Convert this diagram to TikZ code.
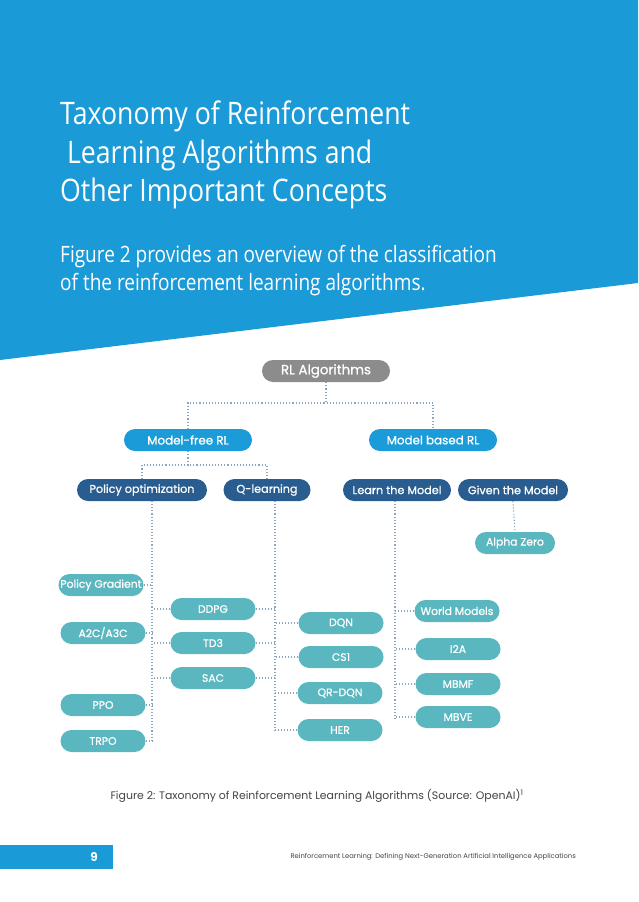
\documentclass[tikz,border=0pt]{standalone}
\usepackage{fontspec}
\setmainfont{Poppins}
\newfontfamily\nodefont{Poppins}[FakeBold=0.8]
\newfontfamily\titlefont{Open Sans}[FakeStretch=0.86]
\newfontfamily\subfont{Open Sans}[FakeStretch=0.845]
\definecolor{bgblue}{HTML}{1A9AD7}
\definecolor{lblue}{HTML}{1B9CD8}
\definecolor{dblue}{HTML}{2A5D8F}
\definecolor{teal}{HTML}{5AB7BF}
\definecolor{rlgray}{HTML}{8C8C8C}
\definecolor{linkc}{HTML}{8AA5BD}
\definecolor{captc}{HTML}{444444}
\begin{document}
\begin{tikzpicture}[x=1pt,y=-1pt,
  box/.style={rounded corners=11pt, minimum height=22pt, inner sep=0pt, text=white,
    font=\nodefont\fontsize{10.8}{12}\selectfont, align=center},
  graybox/.style={box, fill=rlgray, minimum width=128pt, font=\nodefont\fontsize{13.4}{15}\selectfont},
  lbox/.style={box, fill=lblue, minimum width=128pt, font=\nodefont\fontsize{11.9}{13}\selectfont},
  dbox/.style={box, fill=dblue, font=\nodefont\fontsize{11.2}{13}\selectfont},
  tbox/.style={box, fill=teal, minimum width=85pt},
  link/.style={draw=linkc, line width=1.1pt, dotted},
  title/.style={anchor=base west, inner sep=0pt, text=white, font=\titlefont\fontsize{31}{37}\selectfont},
  sub/.style={anchor=base west, inner sep=0pt, text=white, font=\subfont\fontsize{22.5}{25}\selectfont}]
\useasboundingbox (0,0) rectangle (638,902);
\fill[white] (0,0) rectangle (638,902);
\fill[bgblue] (0,0) -- (638,0) -- (638,283) -- (0,360) -- cycle;
% titles
\node[title] (t1) at (60,124) {Taxonomy of Reinforcement};
\node[title] (t2) at (60,163) {\ Learning Algorithms and};
\node[title] (t3) at (60,201) {Other Important Concepts};
\node[sub] (s1) at (60,262) {Figure 2 provides an overview of the classification};
\node[sub] (s2) at (60,290) {of the reinforcement learning algorithms.};
% nodes
\node[graybox] (rl) at (326,371) {RL Algorithms};
\node[lbox] (mf) at (188,440) {Model-free RL};
\node[lbox] (mb) at (433,440) {Model based RL};
\node[dbox, minimum width=130pt] (po) at (142,490) {Policy optimization};
\node[dbox, minimum width=87pt] (ql) at (267,490) {Q-learning};
\node[dbox, minimum width=108pt] (lm) at (397,490) {Learn the Model};
\node[dbox, minimum width=110pt] (gm) at (513,490) {Given the Model};
\node[tbox, minimum width=80pt] (az) at (515,543) {Alpha Zero};
\node[tbox] (pg) at (101,585) {Policy Gradient};
\node[tbox] (a2c) at (103,633) {A2C/A3C};
\node[tbox] (ppo) at (103,705) {PPO};
\node[tbox] (trpo) at (103,741) {TRPO};
\node[tbox] (ddpg) at (213,609) {DDPG};
\node[tbox] (td3) at (213,643) {TD3};
\node[tbox] (sac) at (213,678) {SAC};
\node[tbox] (dqn) at (341,623) {DQN};
\node[tbox] (cs1) at (341,657) {CS1};
\node[tbox] (qrdqn) at (340,693) {QR-DQN};
\node[tbox] (her) at (340,730) {HER};
\node[tbox] (wm) at (457,611) {World Models};
\node[tbox] (i2a) at (458,649) {I2A};
\node[tbox] (mbmf) at (458,684) {MBMF};
\node[tbox] (mbve) at (458,717) {MBVE};
% junctions
\coordinate (j1) at (326,403);
\coordinate (j2) at (188,465);
\coordinate (pot) at (152,501);
\coordinate (pob) at (152,742);
\coordinate (qlt) at (275,501);
\coordinate (qlb) at (275,731);
\coordinate (lmt) at (395,501);
\coordinate (lmb) at (395,719);
% links
\draw[link] (rl.south) -- (j1);
\draw[link] (mf.north) |- (j1) -| (mb.north);
\draw[link] (mf.south) -- (j2);
\draw[link] (po.north) |- (j2) -| (ql.north);
\draw[link] (pot) -- (pob);
\draw[link] (qlt) -- (qlb);
\draw[link] (lmt) -- (lmb);
\draw[link] (gm.south) -- (az.north);
\draw[link] (pg.east) -- (pg.east -| pot);
\draw[link] (a2c.east) -- (a2c.east -| pot);
\draw[link] (ppo.east) -- (ppo.east -| pot);
\draw[link] (trpo.east) -- (trpo.east -| pot);
\draw[link] (ddpg.west) -- (ddpg.west -| pot);
\draw[link] (td3.west) -- (td3.west -| pot);
\draw[link] (sac.west) -- (sac.west -| pot);
\draw[link] (ddpg.east) -- (ddpg.east -| qlt);
\draw[link] (td3.east) -- (td3.east -| qlt);
\draw[link] (sac.east) -- (sac.east -| qlt);
\draw[link] (dqn.west) -- (dqn.west -| qlt);
\draw[link] (cs1.west) -- (cs1.west -| qlt);
\draw[link] (qrdqn.west) -- (qrdqn.west -| qlt);
\draw[link] (her.west) -- (her.west -| qlt);
\draw[link] (wm.west) -- (wm.west -| lmt);
\draw[link] (i2a.west) -- (i2a.west -| lmt);
\draw[link] (mbmf.west) -- (mbmf.west -| lmt);
\draw[link] (mbve.west) -- (mbve.west -| lmt);
% caption
\node[text=captc, font=\fontsize{10.9}{12}\selectfont, inner sep=0pt] (cap) at (317,796) {Figure 2: Taxonomy of Reinforcement Learning Algorithms (Source: OpenAI)\textsuperscript{1}};
% footer
\fill[bgblue] (0,845) rectangle (113,869);
\node[text=white, font=\fontsize{12}{14}\bfseries\selectfont, inner sep=0pt] (pn) at (94,857) {9};
\node[text=captc, font=\fontsize{6.8}{8}\selectfont, inner sep=0pt, anchor=east] (ft) at (576,857) {Reinforcement Learning: Defining Next-Generation Artificial Intelligence Applications};
\end{tikzpicture}
\end{document}
